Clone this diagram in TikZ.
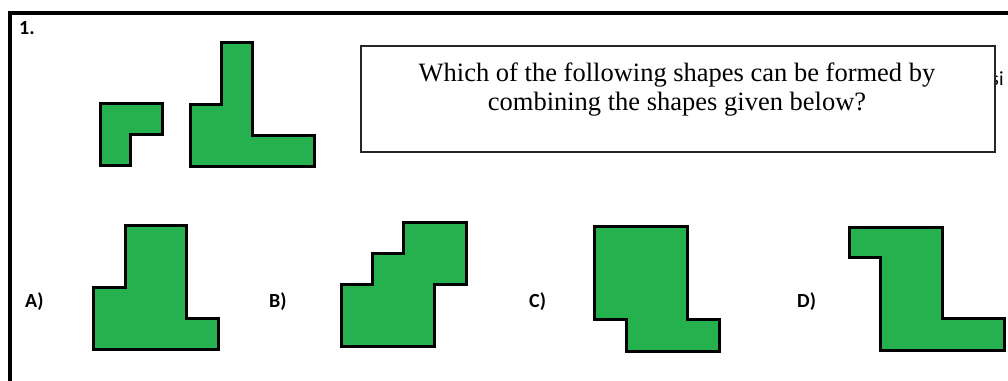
\documentclass[tikz,border=0pt]{standalone}
\usepackage{fontspec}
\setmainfont{Liberation Serif}
\newfontfamily\lblfont{Carlito}
\definecolor{shapegreen}{RGB}{37,177,77}
\begin{document}
\begin{tikzpicture}[x=1pt,y=-1pt,
  piece/.style={fill=shapegreen,draw=black,line width=3pt,line join=miter},
  optlabel/.style={font=\lblfont\bfseries\fontsize{20}{24}\selectfont,anchor=base west,inner sep=0pt},
  qline/.style={font=\fontsize{26.5}{30}\selectfont,anchor=base,inner sep=0pt}]
\useasboundingbox (0,0) rectangle (1008,380);
\fill[white] (0,0) rectangle (1008,380);
% frame
\draw[line width=4pt,line join=miter] (10,382) -- (10,13) -- (1010,13);
\node[optlabel] (n1) at (19,34) {1.};
% given shapes
\draw[piece] (100,103) -- (162,103) -- (162,134) -- (130,134) -- (130,165) -- (100,165) -- cycle;
\draw[piece] (190,104) -- (221,104) -- (221,42) -- (252,42) -- (252,135) -- (314,135) -- (314,166) -- (190,166) -- cycle;
% stray text and question box
\node[font=\lblfont\fontsize{20}{24}\selectfont,anchor=base west,inner sep=0pt] (si) at (991,85) {si};
\node[draw=black!85,line width=1.5pt,fill=white,minimum width=634pt,minimum height=106pt,anchor=north west,inner sep=0pt] (q) at (360,45) {};
\node[qline] (q1) at (677,81) {Which of the following shapes can be formed by};
\node[qline] (q2) at (677,110) {combining the shapes given below?};
% options
\node[optlabel] (la) at (25,307) {A)};
\draw[piece] (93,287) -- (125,287) -- (125,225) -- (186,225) -- (186,318) -- (218,318) -- (218,349) -- (93,349) -- cycle;
\node[optlabel] (lb) at (269,307) {B)};
\draw[piece] (341,346) -- (341,284) -- (372,284) -- (372,253) -- (403,253) -- (403,222) -- (466,222) -- (466,284) -- (434,284) -- (434,346) -- cycle;
\node[optlabel] (lc) at (529,307) {C)};
\draw[piece] (594,226) -- (687,226) -- (687,319) -- (719,319) -- (719,351) -- (626,351) -- (626,319) -- (594,319) -- cycle;
\node[optlabel] (ld) at (797,307) {D)};
\draw[piece] (849,227) -- (942,227) -- (942,318) -- (1004,318) -- (1004,350) -- (880,350) -- (880,257) -- (849,257) -- cycle;
\end{tikzpicture}
\end{document}
